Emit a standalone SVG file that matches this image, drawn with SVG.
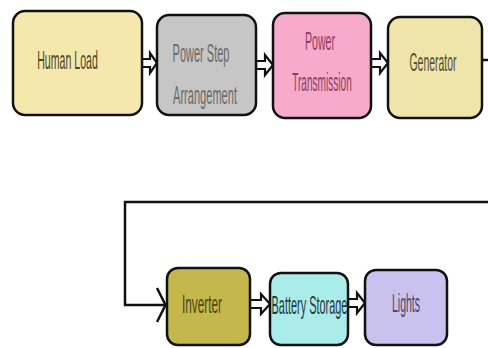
<svg xmlns="http://www.w3.org/2000/svg" width="488" height="348" viewBox="0 0 488 348">
<defs>
<style>
.box{stroke:#111;stroke-width:2.5}
.t{font-family:"Liberation Sans",Arial,sans-serif;font-size:25px;text-anchor:middle}
.arr{fill:#fff;stroke:#111;stroke-width:2.2;stroke-linejoin:miter}
.ln{fill:none;stroke:#111;stroke-width:2.5}
</style>
</defs>
<rect width="488" height="348" fill="#fff"/>
<g id="connectors">
<path class="arr" d="M142 59 H150 V53 L157 63 L150 73 V67 H142 Z"/>
<path class="arr" d="M256 61 H265 V55 L273 65 L265 75 V69 H256 Z"/>
<path class="arr" d="M371 59 H380 V53 L388 63 L380 73 V67 H371 Z"/>
<path class="arr" d="M250 300 H261 V294 L270 304 L261 314 V308 H250 Z"/>
<path class="arr" d="M348 299 H357 V293 L365 303 L357 313 V307 H348 Z"/>
<path class="ln" d="M482 60 H488"/>
<path class="ln" d="M488 202 H125 V305 H165"/>
<path class="ln" d="M157 288 L165.5 305 L157 322"/>
</g>
<g id="human-load">
<rect class="box" x="13" y="11" width="129" height="104" rx="12" fill="#f4e8ad"/>
<text class="t" transform="translate(67.5 69) scale(0.424 1)" fill="#4a4628">Human Load</text>
</g>
<g id="power-step">
<rect class="box" x="157" y="15" width="99" height="100" rx="12" fill="#c6c6c6"/>
<text class="t" transform="translate(201 62) scale(0.44 1)" fill="#6a6a6a">Power Step</text>
<text class="t" transform="translate(205 104) scale(0.443 1)" fill="#6a6a6a">Arrangement</text>
</g>
<g id="power-transmission">
<rect class="box" x="273" y="13" width="98" height="105" rx="12" fill="#f7aacb"/>
<text class="t" transform="translate(320 50) scale(0.424 1)" fill="#8a3f5e">Power</text>
<text class="t" transform="translate(322 91) scale(0.404 1)" fill="#8a3f5e">Transmission</text>
</g>
<g id="generator">
<rect class="box" x="388" y="17" width="94" height="101" rx="12" fill="#efe4a9"/>
<text class="t" transform="translate(433 71) scale(0.418 1)" fill="#55512c">Generator</text>
</g>
<g id="inverter">
<rect class="box" x="167" y="268" width="83" height="77" rx="11" fill="#c4b84c"/>
<text class="t" transform="translate(202 313) scale(0.472 1)" fill="#4a4612">Inverter</text>
</g>
<g id="battery-storage">
<rect class="box" x="270" y="273" width="78" height="72" rx="11" fill="#a9ece9"/>
<text class="t" transform="translate(309.5 314) scale(0.437 1)" fill="#2a3a3a">Battery Storage</text>
</g>
<g id="lights">
<rect class="box" x="365" y="270" width="82" height="75" rx="11" fill="#c9c2ee"/>
<text class="t" transform="translate(406 312) scale(0.42 1)" fill="#4a4868">Lights</text>
</g>
</svg>
